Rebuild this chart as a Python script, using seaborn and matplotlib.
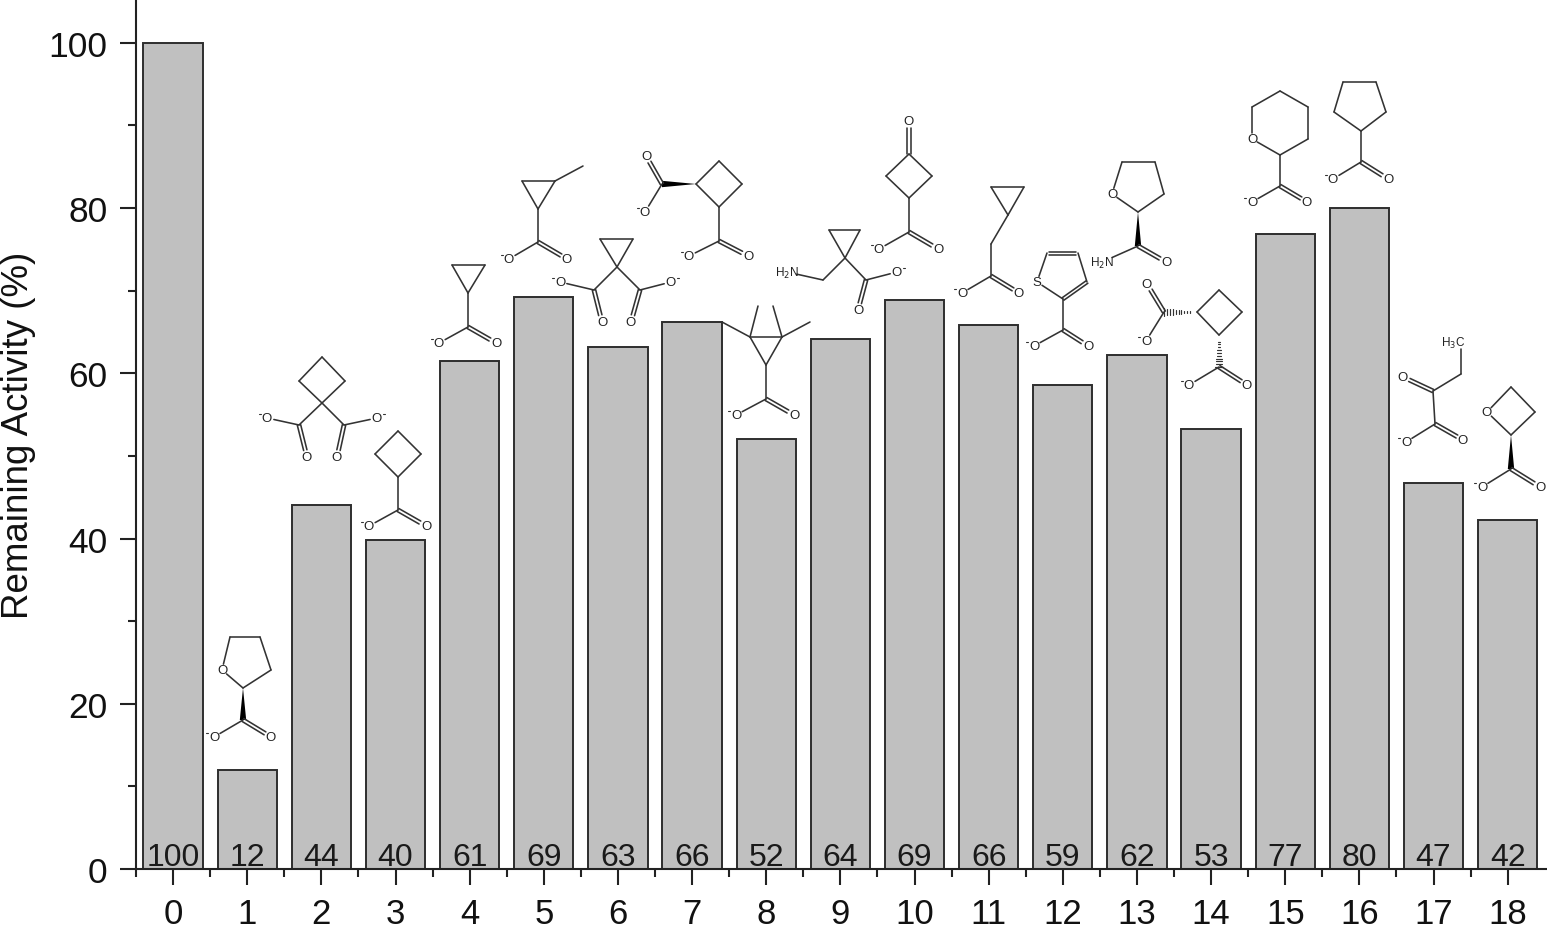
import numpy as np
import matplotlib
matplotlib.use("Agg")
import matplotlib.pyplot as plt
from matplotlib.ticker import MultipleLocator, FixedLocator, NullFormatter
import seaborn as sns
import pandas as pd

compounds = [str(i) for i in range(19)]
activity = [100, 12, 44, 39.8, 61.5, 69.2, 63.2, 66.2, 52, 64.1, 68.9, 65.9,
            58.6, 62.2, 53.2, 76.9, 80, 46.7, 42.2]
bar_labels = ["100", "12", "44", "40", "61", "69", "63", "66", "52", "64", "69",
              "66", "59", "62", "53", "77", "80", "47", "42"]
y_title = "Remaining Activity (%)"

sns.set_theme(style="ticks")
plt.rcParams['font.family'] = ['Liberation Sans', 'DejaVu Sans']
W, H = 1547, 929
fig = plt.figure(figsize=(W / 100, H / 100), dpi=100)
ax = fig.add_axes([136 / W, (H - 870) / H, (W - 136) / W, 870 / H])

df = pd.DataFrame({"compound": compounds, "activity": activity})
sns.barplot(data=df, x="compound", y="activity", color="#c0c0c0", saturation=1,
            width=0.8, edgecolor="#2e2e2e", linewidth=1.4, ax=ax)
ax.set_xlim(-0.5, 18.53)
ax.set_ylim(0, 105.3)
for s in ("top", "right"):
    ax.spines[s].set_visible(False)
for s in ("left", "bottom"):
    ax.spines[s].set_linewidth(1.5)
    ax.spines[s].set_color("#222222")
ax.yaxis.set_major_locator(MultipleLocator(20))
ax.yaxis.set_minor_locator(MultipleLocator(10))
ax.xaxis.set_minor_locator(FixedLocator(np.arange(-0.5, 18.4, 1)))
ax.xaxis.set_minor_formatter(NullFormatter())
ax.tick_params(axis="both", which="major", length=11.5, width=1.5, color="#222222",
               labelsize=25.5, pad=9, labelcolor="#111111")
ax.tick_params(axis="x", which="major", pad=9, labelsize=25)
ax.tick_params(axis="both", which="minor", length=5.8, width=1.5, color="#222222")
ax.set_xlabel("")
ax.set_ylabel(y_title, fontsize=26.5, color="#111111")
ax.yaxis.set_label_coords(-100 / (W - 136), (870 - 435) / 870)
for i, t in enumerate(bar_labels):
    ax.text(i, 0.5, t, ha="center", va="baseline", fontsize=23, color="#1a1a1a")

# Overlay in image pixels for the molecular structure sketches
ov = fig.add_axes([0, 0, 1, 1], zorder=5)
ov.set_xlim(0, W)
ov.set_ylim(H, 0)
ov.axis("off")
ov.patch.set_alpha(0)
LC = "#333333"
LW = 1.15

def bond(p, q, sp=0, sq=0):
    p, q = np.array(p, float), np.array(q, float)
    u = (q - p) / np.hypot(*(q - p))
    a, b = p + u * sp, q - u * sq
    ov.plot([a[0], b[0]], [a[1], b[1]], color=LC, lw=LW, solid_capstyle="round")

def dbl(p, q, sp=0, sq=0, off=1.7):
    p, q = np.array(p, float), np.array(q, float)
    u = (q - p) / np.hypot(*(q - p))
    n = np.array([-u[1], u[0]]) * off
    bond(p + n, q + n, sp, sq)
    bond(p - n, q - n, sp, sq)

def ring(*pts):
    for a, b in zip(pts, pts[1:] + pts[:1]):
        bond(a, b)

def atom(p, t, fs=9.5):
    ov.text(p[0], p[1], t, ha="center", va="center", fontsize=fs, color="#222222")

def coo(c, om, od):
    bond(c, om, 0, 7)
    dbl(c, od, 0, 7)
    atom(om, "O")
    atom(od, "O")
    sgn = 1 if om[0] > c[0] else -1
    ov.plot([om[0] + sgn * 6, om[0] + sgn * 8], [om[1] - 4] * 2, color=LC, lw=0.8)

def wedge(p, q, w=3.2):
    p, q = np.array(p, float), np.array(q, float)
    u = (q - p) / np.hypot(*(q - p))
    n = np.array([-u[1], u[0]]) * w
    ov.fill(*zip(p, q + n, q - n), color="black", lw=0)

def hashed(p, q, k=12, w=3.6):
    p, q = np.array(p, float), np.array(q, float)
    u = (q - p) / np.hypot(*(q - p))
    n = np.array([-u[1], u[0]])
    for t in np.linspace(0.03, 1, k):
        m = p + (q - p) * t
        a, b = m + n * w * t, m - n * w * t
        ov.plot([a[0], b[0]], [a[1], b[1]], color=LC, lw=0.85)

# 1
O = (222, 671)
bond(O, (230, 638), 6); bond((230, 638), (260, 638)); bond((260, 638), (271, 671))
bond((271, 671), (243, 689)); bond((243, 689), O, 0, 6); atom(O, "O")
wedge((243, 689), (243, 721)); coo((243, 721), (214, 738), (271, 738))
# 2
ring((322, 358), (345, 382), (322, 404), (299, 382))
bond((322, 404), (299, 426)); bond((322, 404), (344, 426))
coo((299, 426), (267, 419), (307, 458)); coo((344, 426), (377, 419), (337, 458))
# 3
ring((398, 432), (421, 455), (398, 478), (375, 455))
bond((398, 478), (398, 511)); coo((398, 511), (369, 527), (426, 527))
# 4
ring((452, 266), (485, 266), (468, 294))
bond((468, 294), (468, 328)); coo((468, 328), (439, 344), (496, 344))
# 5
ring((522, 182), (555, 182), (538, 210)); bond((555, 182), (583, 167))
bond((538, 210), (538, 243)); coo((538, 243), (509, 260), (567, 260))
# 6
ring((600, 240), (633, 240), (617, 268))
bond((617, 268), (594, 291)); bond((617, 268), (640, 291))
coo((594, 291), (560, 283), (602, 323)); coo((640, 291), (671, 283), (631, 323))
# 7
ring((696, 185), (719, 162), (742, 185), (719, 208))
wedge((696, 185), (662, 185)); coo((662, 185), (645, 213), (646, 157))
bond((719, 208), (719, 242)); coo((719, 242), (689, 257), (748, 257))
# 8
ring((750, 338), (782, 338), (766, 366))
bond((750, 338), (758, 307)); bond((750, 338), (722, 323))
bond((782, 338), (773, 307)); bond((782, 338), (810, 323))
bond((766, 366), (766, 400)); coo((766, 400), (736, 416), (794, 416))
# 9
ring((829, 231), (860, 231), (845, 259))
bond((845, 259), (823, 281)); bond((823, 281), (787, 273), 0, 10)
atom((787, 273), "H$_2$N", 8.5)
bond((845, 259), (866, 281)); coo((866, 281), (897, 273), (858, 311))
# 10
dbl((909, 155), (909, 122), 0, 7); atom((909, 122), "O")
ring((909, 155), (932, 177), (909, 199), (886, 177))
bond((909, 199), (909, 233)); coo((909, 233), (879, 250), (938, 250))
# 11
ring((991, 188), (1024, 188), (1008, 216)); bond((1008, 216), (991, 245))
bond((991, 245), (991, 277)); coo((991, 277), (962, 294), (1019, 294))
# 12
S = (1037, 283)
bond(S, (1047, 254), 6); dbl((1049, 254), (1076, 254), off=1.5)
bond((1078, 254), (1087, 283)); dbl((1087, 283), (1063, 300), off=1.5)
bond((1063, 300), S, 0, 6); atom(S, "S")
bond((1063, 300), (1063, 331)); coo((1063, 331), (1034, 347), (1088, 347))
# 13
O = (1112, 195)
bond(O, (1122, 163), 6); bond((1122, 163), (1155, 163)); bond((1155, 163), (1164, 195))
bond((1164, 195), (1138, 213)); bond((1138, 213), O, 0, 6); atom(O, "O")
wedge((1138, 213), (1138, 247)); bond((1138, 247), (1102, 263), 0, 11)
atom((1102, 263), "H$_2$N", 8.5); dbl((1138, 247), (1166, 263), 0, 7); atom((1166, 263), "O")
# 14
ring((1197, 313), (1219, 291), (1242, 313), (1219, 336))
hashed((1197, 313), (1164, 313)); coo((1164, 313), (1146, 342), (1147, 285))
hashed((1219, 336), (1219, 368)); coo((1219, 368), (1189, 386), (1247, 386))
# 15
O = (1252, 140)
bond(O, (1252, 108), 6); bond((1252, 108), (1280, 92)); bond((1280, 92), (1308, 108))
bond((1308, 108), (1308, 140)); bond((1308, 140), (1280, 156)); bond((1280, 156), O, 0, 6)
atom(O, "O"); bond((1280, 156), (1280, 187)); coo((1280, 187), (1252, 203), (1307, 203))
# 16
ring((1343, 83), (1376, 83), (1386, 113), (1361, 132), (1334, 113))
bond((1361, 132), (1361, 163)); coo((1361, 163), (1333, 180), (1388, 180))
# 17
atom((1453, 343), "H$_3$C", 8.5); bond((1461, 350), (1461, 375)); bond((1461, 375), (1433, 392))
dbl((1433, 392), (1403, 378), 0, 7); atom((1403, 378), "O")
bond((1433, 392), (1435, 425)); coo((1435, 425), (1406, 443), (1463, 441))
# 18
O = (1487, 413)
bond(O, (1511, 388), 6); bond((1511, 388), (1535, 413)); bond((1535, 413), (1511, 436))
bond((1511, 436), O, 0, 6); atom(O, "O")
wedge((1511, 436), (1511, 470)); coo((1511, 470), (1482, 488), (1540, 488))

fig.savefig("out.png", dpi=100, facecolor="white")
